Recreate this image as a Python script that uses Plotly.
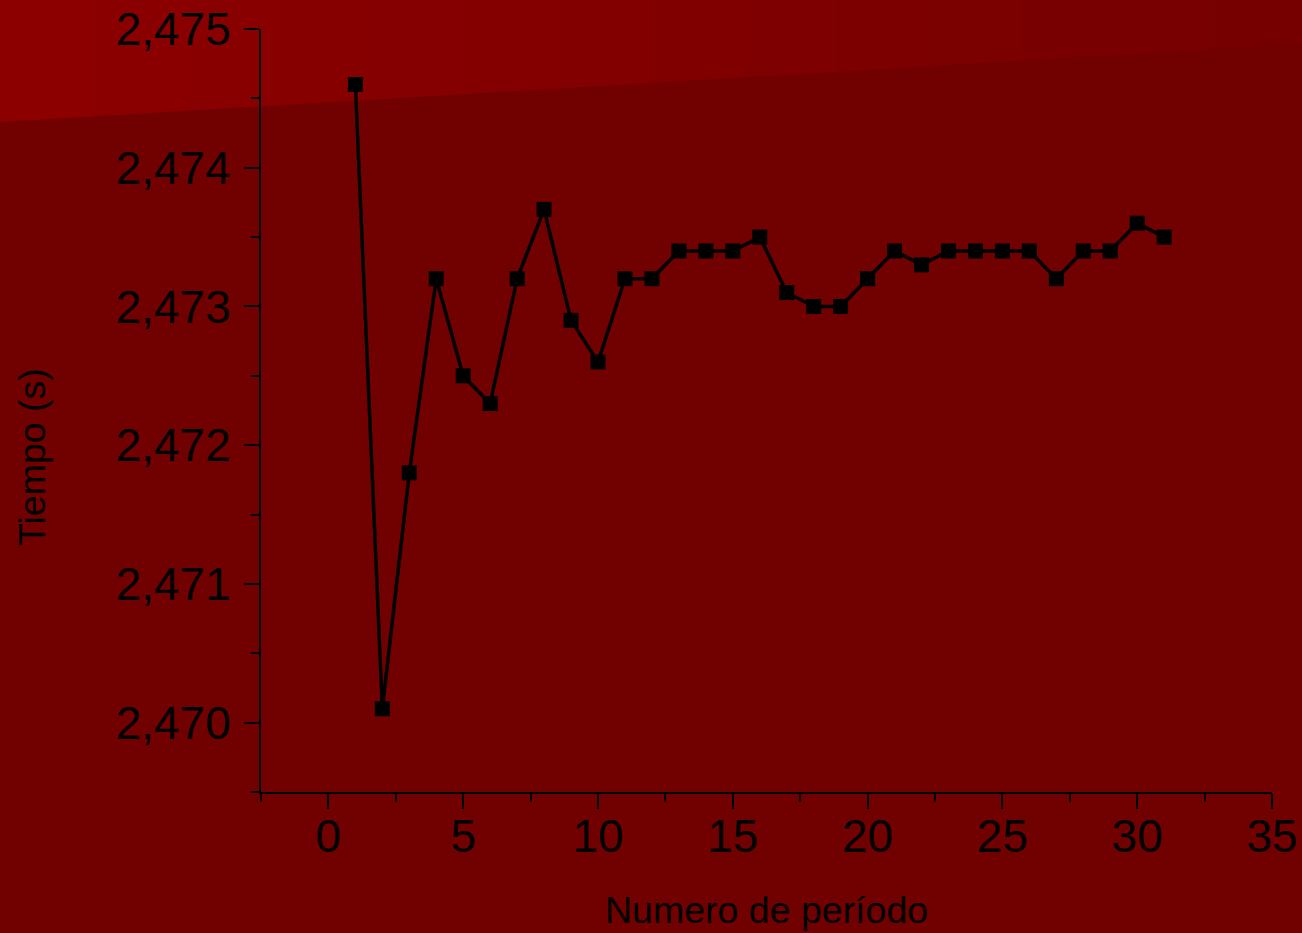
import plotly.graph_objects as go

periodo = list(range(1, 32))
tiempo = [2.4746, 2.4701, 2.4718, 2.4732, 2.4725, 2.4723, 2.4732, 2.4737, 2.4729, 2.4726,
          2.4732, 2.4732, 2.4734, 2.4734, 2.4734, 2.4735, 2.4731, 2.4730, 2.4730, 2.4732,
          2.4734, 2.4733, 2.4734, 2.4734, 2.4734, 2.4734, 2.4732, 2.4734, 2.4734, 2.4736,
          2.4735]

W, H = 1302, 933
L, R, T, B = 261, 1272, 29, 792

fig = go.Figure()
fig.add_trace(go.Scatter(
    x=periodo, y=tiempo, mode="lines+markers",
    line=dict(color="black", width=3.5),
    marker=dict(symbol="square", size=15, color="black"),
    showlegend=False, cliponaxis=False,
))

def px2paper(px, py):
    return (px - L) / (R - L), (B - py) / (B - T)

# lighter background band in the upper-left corner (gradient approximated by strips)
n = 14
c0 = (0x8c, 0, 0)
c1 = (0x76, 0, 0)
shapes = []
for i in range(n):
    xa = W * i / n
    xb = W * (i + 1) / n
    ya = 122 - 0.06 * xa
    yb = 122 - 0.06 * xb
    t = i / (n - 1)
    col = "rgb(%d,%d,%d)" % tuple(round(c0[k] + (c1[k] - c0[k]) * t) for k in range(3))
    p1 = px2paper(xa, ya)
    p2 = px2paper(xb + 1, yb)
    p3 = px2paper(xb + 1, -2)
    p4 = px2paper(xa, -2)
    path = "M %f,%f L %f,%f L %f,%f L %f,%f Z" % (p1 + p2 + p3 + p4)
    shapes.append(dict(type="path", xref="paper", yref="paper", path=path,
                       fillcolor=col, line=dict(width=0), layer="below"))

font = "Liberation Sans, Arial, sans-serif"
fig.update_layout(
    width=W, height=H,
    margin=dict(l=L, r=W - R, t=T, b=H - B, autoexpand=False),
    paper_bgcolor="#710000", plot_bgcolor="rgba(0,0,0,0)",
    separators=",.",
    shapes=shapes,
    font=dict(family=font, color="black"),
    xaxis=dict(range=[-2.5, 35], tickmode="linear", tick0=0, dtick=5, automargin=False,
               showgrid=False, zeroline=False, showline=True, linecolor="black", linewidth=2,
               ticks="outside", ticklen=15, tickwidth=2, tickcolor="black",
               ticklabelstandoff=-12,
               tickfont=dict(size=46, family=font, color="black"),
               minor=dict(dtick=2.5, tick0=0, ticks="outside", ticklen=8, tickwidth=2,
                          tickcolor="black", showgrid=False)),
    yaxis=dict(range=[2.4695, 2.475], tickmode="linear", tick0=2.470, dtick=0.001,
               tickformat=".3f", automargin=False,
               showgrid=False, zeroline=False, showline=True, linecolor="black", linewidth=2,
               ticks="outside", ticklen=15, tickwidth=2, tickcolor="black",
               ticklabelstandoff=4,
               tickfont=dict(size=46, family=font, color="black"),
               minor=dict(dtick=0.0005, tick0=2.470, ticks="outside", ticklen=8, tickwidth=2,
                          tickcolor="black", showgrid=False)),
    annotations=[
        dict(text="Numero de período", xref="paper", yref="paper",
             x=0.5, y=px2paper(0, 910)[1], xanchor="center", yanchor="middle",
             showarrow=False, font=dict(size=37.5, family=font, color="black")),
        dict(text="Tiempo (s)", xref="paper", yref="paper",
             x=px2paper(32, 0)[0], y=px2paper(0, 457)[1], xanchor="center", yanchor="middle",
             textangle=-90, showarrow=False, font=dict(size=37.5, family=font, color="black")),
    ],
)

fig.write_html("out.html", config={"displayModeBar": False},
               post_script="document.body.style.margin='0';document.body.style.overflow='hidden';document.body.style.background='#710000';")
